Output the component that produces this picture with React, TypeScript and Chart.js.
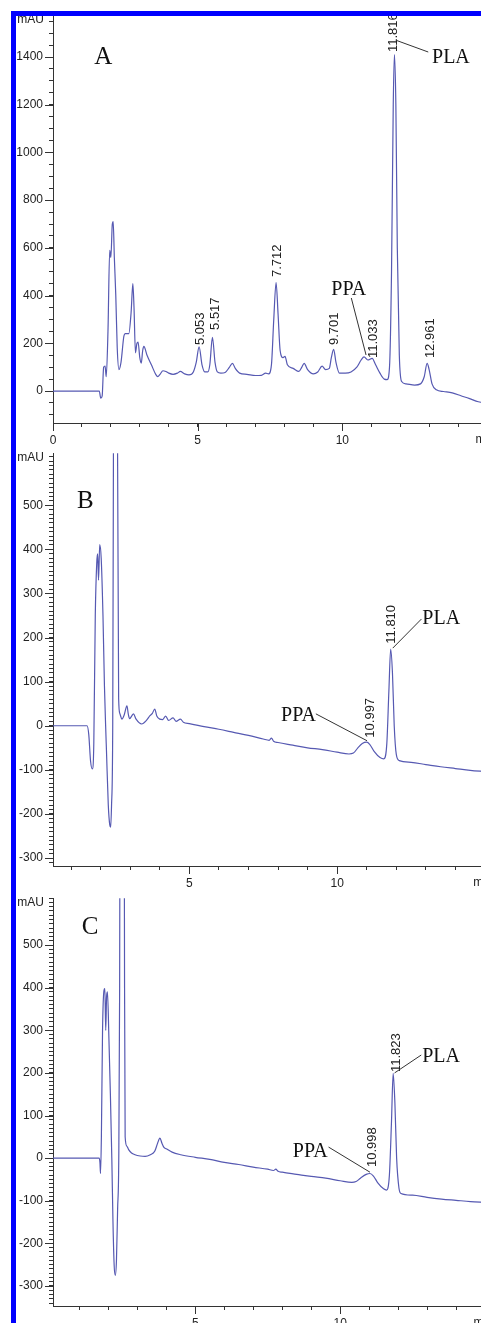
import React, { useEffect, useRef } from 'react';
import { Chart, registerables } from 'chart.js';

Chart.register(...registerables);

// ---------- Panel A (sample chromatogram) ----------
const timeA = [0, 1.6, 1.65, 1.7, 1.75, 1.8, 1.84, 1.9, 1.96, 2.0, 2.05, 2.08, 2.12, 2.17, 2.22, 2.28, 2.35, 2.45, 2.5, 2.62, 2.7, 2.76, 2.8, 2.85, 2.9, 2.94, 3.0, 3.05, 3.1, 3.14, 3.25, 3.4, 3.55, 3.62, 3.7, 3.8, 3.9, 4.0, 4.15, 4.3, 4.4, 4.55, 4.7, 4.85, 4.95, 5.05, 5.15, 5.25, 5.35, 5.42, 5.51, 5.6, 5.68, 5.8, 5.95, 6.1, 6.2, 6.3, 6.45, 6.7, 7.0, 7.2, 7.35, 7.45, 7.55, 7.63, 7.71, 7.78, 7.85, 7.95, 8.02, 8.1, 8.3, 8.5, 8.6, 8.68, 8.8, 9.0, 9.15, 9.3, 9.42, 9.55, 9.62, 9.7, 9.78, 9.9, 10.1, 10.3, 10.5, 10.65, 10.75, 10.88, 11.03, 11.15, 11.3, 11.45, 11.55, 11.63, 11.7, 11.76, 11.8, 11.85, 11.9, 11.97, 12.05, 12.2, 12.5, 12.7, 12.83, 12.93, 13.0, 13.1, 13.25, 13.5, 13.8, 14.1, 14.4, 14.7, 15];
const signalA = [0, 0, -30, -20, 100, 105, 60, 250, 590, 560, 700, 710, 560, 400, 180, 90, 120, 230, 241, 241, 330, 450, 350, 160, 200, 205, 140, 117, 170, 187, 150, 110, 70, 60, 70, 85, 82, 75, 70, 75, 82, 72, 68, 80, 120, 185, 110, 80, 80, 110, 225, 120, 80, 75, 78, 100, 116, 95, 75, 70, 65, 66, 75, 72, 110, 300, 455, 320, 170, 140, 145, 110, 95, 82, 100, 116, 90, 72, 80, 104, 90, 95, 140, 175, 120, 75, 75, 80, 100, 130, 143, 130, 137, 110, 75, 50, 48, 100, 500, 1200, 1410, 1200, 600, 150, 40, 30, 25, 30, 60, 116, 90, 30, 5, -2, -8, -20, -32, -45, -50];
const rtTextA = ['5.053', '5.517', '7.712', '9.701', '11.033', '11.816', '12.961'];
const rtTimeA = [5.09, 5.6, 7.75, 9.73, 11.09, 11.77, 13.04];
const rtValA = [193, 256, 478, 193, 138, 1421, 138];

// ---------- Panel B ----------
const timeB = [0.39, 1.54, 1.6, 1.66, 1.72, 1.77, 1.82, 1.87, 1.9, 1.93, 1.97, 2.02, 2.08, 2.13, 2.17, 2.2, 2.26, 2.31, 2.34, 2.37, 2.41, 2.44, 2.48, 2.53, 2.57, 2.61, 2.65, 2.72, 2.8, 2.89, 2.94, 2.98, 3.05, 3.11, 3.2, 3.39, 3.55, 3.67, 3.75, 3.83, 3.9, 4.0, 4.1, 4.2, 4.3, 4.45, 4.55, 4.7, 4.8, 5.0, 5.5, 6.0, 6.5, 7.0, 7.5, 7.7, 7.78, 7.85, 8.0, 8.5, 9.0, 9.5, 10.0, 10.4, 10.55, 10.7, 10.85, 11.0, 11.1, 11.25, 11.45, 11.58, 11.68, 11.75, 11.81, 11.87, 11.93, 12.0, 12.1, 12.5, 13.0, 13.5, 14.0, 14.5, 15];
const signalB = [0, 0, -20, -80, -98, -40, 250, 370, 390, 330, 411, 380, 250, 90, 0, -60, -180, -225, -230, -180, 0, 800, 1800, 1800, 700, 61, 28, 15, 25, 45, 25, 16, 22, 27, 15, 4, 12, 23, 28, 38, 22, 15, 14, 22, 12, 18, 10, 15, 8, 5, -2, -8, -15, -22, -30, -33, -28, -35, -38, -44, -50, -54, -60, -64, -62, -50, -40, -37, -42, -58, -72, -75, -40, 80, 174, 120, 0, -65, -79, -83, -88, -93, -97, -101, -104];
const rtTextB = ['10.997', '11.810'];
const rtTimeB = [11.11, 11.85];
const rtValB = [-27, 186];

// ---------- Panel C ----------
const timeC = [0.09, 1.68, 1.71, 1.73, 1.76, 1.8, 1.85, 1.88, 1.91, 1.94, 1.97, 2.02, 2.07, 2.12, 2.16, 2.2, 2.24, 2.28, 2.32, 2.36, 2.39, 2.42, 2.48, 2.53, 2.56, 2.58, 2.64, 2.7, 2.8, 2.92, 3.1, 3.27, 3.45, 3.6, 3.7, 3.78, 3.85, 3.92, 4.0, 4.2, 4.5, 5.0, 5.5, 6.0, 6.5, 7.0, 7.5, 7.7, 7.78, 7.86, 8.0, 8.5, 9.0, 9.5, 10.0, 10.4, 10.55, 10.7, 10.9, 11.03, 11.15, 11.3, 11.5, 11.6, 11.7, 11.77, 11.83, 11.89, 11.95, 12.03, 12.1, 12.5, 13.0, 13.5, 14.0, 14.5, 15];
const signalC = [0, 0, -10, -36, 50, 300, 394, 398, 300, 380, 390, 280, 152, 0, -150, -250, -275, -240, -120, 0, 400, 1500, 2000, 1500, 400, 50, 28, 20, 12, 8, 5, 4, 8, 16, 35, 47, 35, 25, 22, 14, 8, 2, -3, -10, -15, -21, -26, -29, -26, -31, -33, -38, -43, -47, -53, -57, -55, -47, -38, -36, -42, -58, -72, -75, -40, 80, 199, 130, 0, -70, -83, -87, -92, -96, -99, -102, -104];
const rtTextC = ['10.998', '11.823'];
const rtTimeC = [11.1, 11.95];
const rtValC = [-21, 202];

// compound names: [text, t, v, align, leaderT1, leaderV1, leaderT2, leaderV2]
const compoundsA: [string, number, number, string, number, number, number, number][] = [
  ['PPA', 9.62, 423, 'left', 10.31, 390, 10.82, 151],
  ['PLA', 13.1, 1396, 'left', 12.97, 1421, 11.84, 1471],
];
const compoundsB: [string, number, number, string, number, number, number, number][] = [
  ['PPA', 9.28, 23, 'right', 9.28, 27, 11.01, -34],
  ['PLA', 12.88, 242, 'left', 12.85, 242, 11.88, 176],
];
const compoundsC: [string, number, number, string, number, number, number, number][] = [
  ['PPA', 9.57, 14, 'right', 9.6, 26, 11.03, -33],
  ['PLA', 12.83, 237, 'left', 12.8, 242, 11.88, 200],
];

const TRACE = '#5659b2';
const AXIS = '#333333';
const TEXT = '#222222';
const SANS = '"Liberation Sans", Arial, Helvetica, sans-serif';
const SERIF = '"Liberation Serif", "Times New Roman", serif';

type PanelCfg = {
  letter: string; letterT: number; letterV: number;
  time: number[]; signal: number[];
  rtText: string[]; rtTime: number[]; rtVal: number[];
  compounds: [string, number, number, string, number, number, number, number][];
  xMin: number; xMax: number; pxPerMin: number;
  yMin: number; yMax: number; yMinorStep: number; yMajorStep: number; yLabelMax: number;
  top: number; padTop: number; plotBottom: number;
};

const panels: PanelCfg[] = [
  {
    letter: 'A', letterT: 1.74, letterV: 1400,
    time: timeA, signal: signalA, rtText: rtTextA, rtTime: rtTimeA, rtVal: rtValA, compounds: compoundsA,
    xMin: 0, xMax: 15, pxPerMin: 29.33,
    yMin: -134, yMax: 1572, yMinorStep: 50, yMajorStep: 200, yLabelMax: 1400,
    top: 0, padTop: 16, plotBottom: 423,
  },
  {
    letter: 'B', letterT: 1.48, letterV: 509,
    time: timeB, signal: signalB, rtText: rtTextB, rtTime: rtTimeB, rtVal: rtValB, compounds: compoundsB,
    xMin: 0.39, xMax: 15, pxPerMin: 30,
    yMin: -318, yMax: 618, yMinorStep: 10, yMajorStep: 100, yLabelMax: 500,
    top: 440, padTop: 12, plotBottom: 866,
  },
  {
    letter: 'C', letterT: 1.37, letterV: 542,
    time: timeC, signal: signalC, rtText: rtTextC, rtTime: rtTimeC, rtVal: rtValC, compounds: compoundsC,
    xMin: 0.09, xMax: 15, pxPerMin: 29.4,
    yMin: -347, yMax: 610, yMinorStep: 10, yMajorStep: 100, yLabelMax: 500,
    top: 885, padTop: 13, plotBottom: 1306,
  },
];

const Y_AXIS_W = 53;
const X_AXIS_H = 30;

function isYMajor(v: number, p: PanelCfg) {
  return Math.abs(v % p.yMajorStep) < 1e-6 && v <= p.yLabelMax;
}
function isXMajor(v: number) {
  return Math.abs(v % 5) < 1e-6 && v <= 10;
}

function Panel({ p }: { p: PanelCfg }) {
  const ref = useRef<HTMLCanvasElement>(null);
  const w = Math.round(Y_AXIS_W + (p.xMax - p.xMin) * p.pxPerMin);
  const h = p.plotBottom - p.top + X_AXIS_H;

  useEffect(() => {
    const overlay = {
      id: 'overlay' + p.letter,
      afterDraw(chart: any) {
        const { ctx, chartArea: ca, scales } = chart;
        const xs = scales.x;
        const ys = scales.y;
        ctx.save();
        ctx.strokeStyle = AXIS;
        ctx.lineWidth = 1;
        // longer major tick marks
        ctx.beginPath();
        for (const t of ys.ticks) {
          if (isYMajor(t.value, p)) {
            const py = Math.round(ys.getPixelForValue(t.value)) + 0.5;
            ctx.moveTo(ca.left - 8, py);
            ctx.lineTo(ca.left, py);
          }
        }
        for (const t of xs.ticks) {
          if (isXMajor(t.value)) {
            const px = Math.round(xs.getPixelForValue(t.value)) + 0.5;
            ctx.moveTo(px, ca.bottom);
            ctx.lineTo(px, ca.bottom + 8);
          }
        }
        ctx.stroke();

        // axis unit labels
        ctx.fillStyle = TEXT;
        ctx.font = '12px ' + SANS;
        ctx.textAlign = 'right';
        ctx.textBaseline = 'middle';
        ctx.fillText('mAU', ca.left - 9, ca.top + 4);
        ctx.textAlign = 'left';
        ctx.fillText('min', xs.getPixelForValue(14.6), ca.bottom + 17);

        // panel letter
        ctx.font = '25px ' + SERIF;
        ctx.textAlign = 'center';
        ctx.textBaseline = 'middle';
        ctx.fillStyle = '#111';
        ctx.fillText(p.letter, xs.getPixelForValue(p.letterT), ys.getPixelForValue(p.letterV));

        // retention time labels (vertical)
        ctx.font = '13px ' + SANS;
        ctx.fillStyle = TEXT;
        p.rtText.forEach((txt, i) => {
          ctx.save();
          ctx.translate(xs.getPixelForValue(p.rtTime[i]), ys.getPixelForValue(p.rtVal[i]));
          ctx.rotate(-Math.PI / 2);
          ctx.textAlign = 'left';
          ctx.textBaseline = 'middle';
          ctx.fillText(txt, 0, 0);
          ctx.restore();
        });

        // compound names with leader lines
        ctx.font = '20px ' + SERIF;
        ctx.fillStyle = '#111';
        ctx.strokeStyle = '#333';
        p.compounds.forEach(([txt, t, v, align, t1, v1, t2, v2]) => {
          ctx.textAlign = align as CanvasTextAlign;
          ctx.textBaseline = 'middle';
          ctx.fillText(txt, xs.getPixelForValue(t), ys.getPixelForValue(v));
          ctx.beginPath();
          ctx.moveTo(xs.getPixelForValue(t1), ys.getPixelForValue(v1));
          ctx.lineTo(xs.getPixelForValue(t2), ys.getPixelForValue(v2));
          ctx.stroke();
        });
        ctx.restore();
      },
    };

    const chart = new Chart(ref.current!, {
      type: 'line',
      data: {
        datasets: [
          {
            data: p.time.map((t, i) => ({ x: t, y: p.signal[i] })),
            borderColor: TRACE,
            borderWidth: 1.2,
            pointRadius: 0,
            fill: false,
            cubicInterpolationMode: 'monotone',
          },
        ],
      },
      options: {
        responsive: false,
        animation: false,
        events: [],
        layout: { padding: { top: p.padTop, left: 0, right: 0, bottom: 0 } },
        plugins: { legend: { display: false }, tooltip: { enabled: false } },
        scales: {
          x: {
            type: 'linear',
            min: p.xMin,
            max: p.xMax,
            afterFit: (s: any) => { s.height = X_AXIS_H; },
            afterBuildTicks: (s: any) => {
              const arr = [];
              for (let v = Math.ceil(p.xMin); v <= p.xMax; v++) arr.push({ value: v });
              s.ticks = arr;
            },
            grid: { drawOnChartArea: false, drawTicks: true, tickLength: 4, color: AXIS, lineWidth: 1 },
            border: { display: true, color: AXIS, width: 1 },
            ticks: {
              autoSkip: false,
              maxRotation: 0,
              minRotation: 0,
              padding: 6,
              color: TEXT,
              font: { family: SANS, size: 12 },
              callback: (v: any) => (isXMajor(Number(v)) ? String(v) : ''),
            },
          },
          y: {
            type: 'linear',
            min: p.yMin,
            max: p.yMax,
            afterFit: (s: any) => { s.width = Y_AXIS_W; },
            afterBuildTicks: (s: any) => {
              const arr = [];
              const start = Math.ceil(p.yMin / p.yMinorStep) * p.yMinorStep;
              for (let v = start; v <= p.yMax; v += p.yMinorStep) arr.push({ value: v });
              s.ticks = arr;
            },
            grid: { drawOnChartArea: false, drawTicks: true, tickLength: 4, color: AXIS, lineWidth: 1 },
            border: { display: true, color: AXIS, width: 1 },
            ticks: {
              autoSkip: false,
              padding: 6,
              color: TEXT,
              font: { family: SANS, size: 12 },
              callback: (v: any) => (isYMajor(Number(v), p) ? String(v) : ''),
            },
          },
        },
      },
      plugins: [overlay],
    } as any);
    return () => chart.destroy();
  }, []);

  return (
    <canvas
      ref={ref}
      width={w}
      height={h}
      style={{ position: 'absolute', left: 0, top: p.top, width: w, height: h }}
    />
  );
}

export default function App() {
  return (
    <div
      style={{
        position: 'absolute',
        left: 0,
        top: 0,
        width: 481,
        height: 1323,
        overflow: 'hidden',
        background: '#ffffff',
      }}
    >
      {panels.map((p) => (
        <Panel key={p.letter} p={p} />
      ))}
      <div style={{ position: 'absolute', left: 0, top: 0, width: 481, height: 11, background: '#fff', zIndex: 5 }} />
      <div style={{ position: 'absolute', left: 0, top: 0, width: 11, height: 1323, background: '#fff', zIndex: 5 }} />
      <div style={{ position: 'absolute', left: 11, top: 11, width: 470, height: 5, background: '#0000ff', zIndex: 6 }} />
      <div style={{ position: 'absolute', left: 11, top: 11, width: 5, height: 1312, background: '#0000ff', zIndex: 6 }} />
    </div>
  );
}
